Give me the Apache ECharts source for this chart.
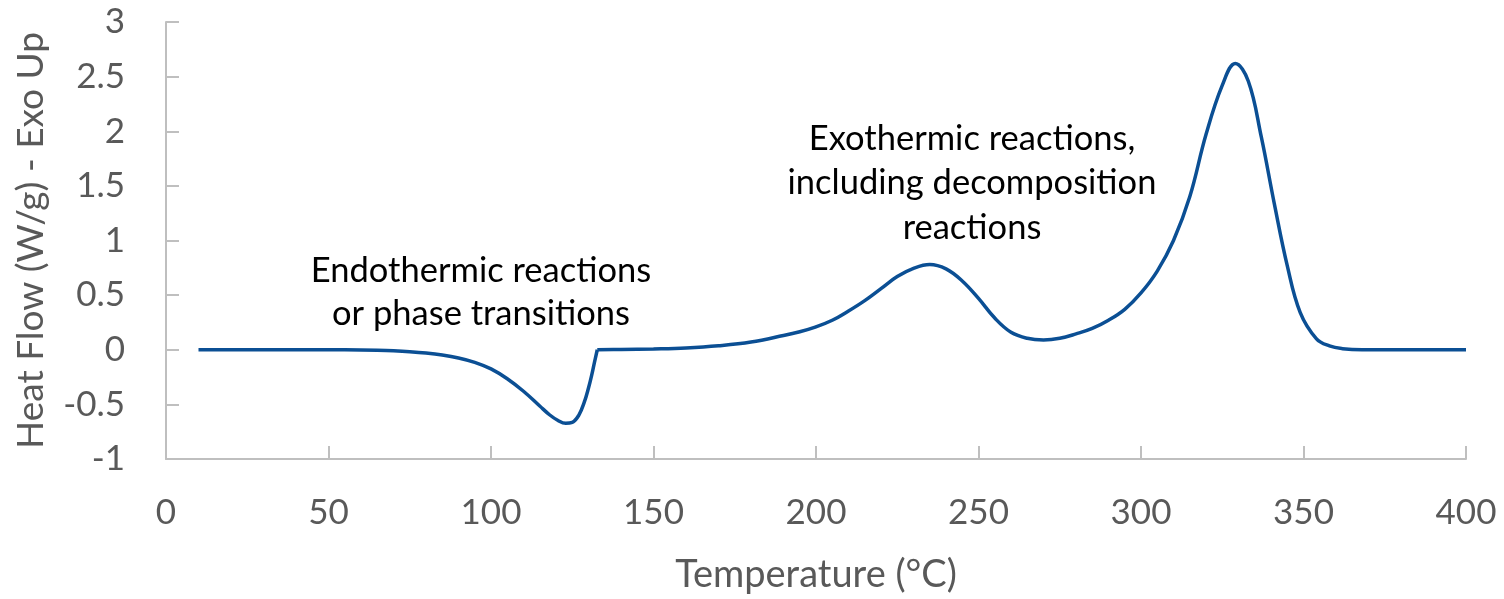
<!DOCTYPE html>
<html>
<head>
<meta charset="utf-8">
<script src="https://cdn.jsdelivr.net/npm/echarts@6/dist/echarts.min.js"></script>
<style>html,body{margin:0;padding:0;background:#fff}#c{width:1504px;height:599px}</style>
</head>
<body>
<div id="c"></div>
<script>
// Endothermic segment (ends at the sharp return to baseline)
const tempEndo = [10,20,30,40,50,60,65,70,75,80,85,90,95,100,105,110,115,118,120.5,123,125,127,128.7,130,131,131.8,132.7];
const flowEndo = [0,0,0,0,0,-0.002,-0.005,-0.01,-0.018,-0.03,-0.048,-0.075,-0.115,-0.175,-0.265,-0.38,-0.515,-0.595,-0.645,-0.673,-0.665,-0.6,-0.48,-0.35,-0.23,-0.12,0];
// Exothermic segment
const tempExo = [132.7,140,150,160,170,180,190,195,200,205,210,215,220,225,230,235,240,245,250,255,260,265,270,275,280,285,290,295,300,305,310,315,320,325,329,333,337,341,345,349,354,358,362,368,380,400];
const flowExo = [0,0.002,0.007,0.016,0.036,0.07,0.13,0.165,0.21,0.27,0.355,0.45,0.56,0.67,0.745,0.78,0.74,0.63,0.47,0.29,0.16,0.105,0.09,0.105,0.145,0.195,0.27,0.37,0.52,0.72,1.0,1.4,1.97,2.42,2.62,2.46,1.95,1.34,0.77,0.34,0.1,0.035,0.01,0,0,0];
const xTicks = {min:0, max:400, interval:50};
const yTicks = {min:-1, max:3, interval:0.5};
const annotations = [
  {lines:['Endothermic reactions','or phase transitions'], x:481, y:292, lh:43},
  {lines:['Exothermic reactions,','including decomposition','reactions'], x:972, y:183, lh:44.5}
];

const chart = echarts.init(document.getElementById('c'));
const font = 'Lato, "Open Sans", sans-serif';
const axisCol = '#bfbfbf';
const textCol = '#595959';
const lineCol = '#0b4f94';
function seg(t, v){ return {type:'line', data:t.map((x,i)=>[x,v[i]]), showSymbol:false, smooth:0.4,
  lineStyle:{color:lineCol, width:3.5}}; }
chart.setOption({
  animation:false,
  grid:{left:166, right:38, top:22, bottom:139},
  xAxis:{type:'value', min:xTicks.min, max:xTicks.max, interval:xTicks.interval,
    name:'Temperature (°C)', nameLocation:'middle', nameGap:97,
    nameTextStyle:{fontFamily:font, fontSize:38, color:textCol},
    axisLine:{show:true, onZero:false, lineStyle:{color:axisCol, width:2}},
    axisTick:{show:true, inside:true, length:13, lineStyle:{color:axisCol, width:2}},
    axisLabel:{fontFamily:font, fontSize:35, color:textCol, margin:36},
    splitLine:{show:false}},
  yAxis:{type:'value', min:yTicks.min, max:yTicks.max, interval:yTicks.interval,
    name:'Heat Flow (W/g) - Exo Up', nameLocation:'middle', nameGap:116,
    nameTextStyle:{fontFamily:font, fontSize:37, color:textCol},
    axisLine:{show:true, onZero:false, lineStyle:{color:axisCol, width:2}},
    axisTick:{show:true, inside:true, length:13, lineStyle:{color:axisCol, width:2}},
    axisLabel:{fontFamily:font, fontSize:35, color:textCol, margin:41},
    splitLine:{show:false}},
  series:[seg(tempEndo, flowEndo), seg(tempExo, flowExo)],
  graphic: annotations.map(a=>({type:'text', x:a.x, y:a.y,
    style:{text:a.lines.join('\n'), font:'34.5px '+font, fill:'#000', align:'center', verticalAlign:'middle', lineHeight:a.lh}}))
});
</script>
</body>
</html>
